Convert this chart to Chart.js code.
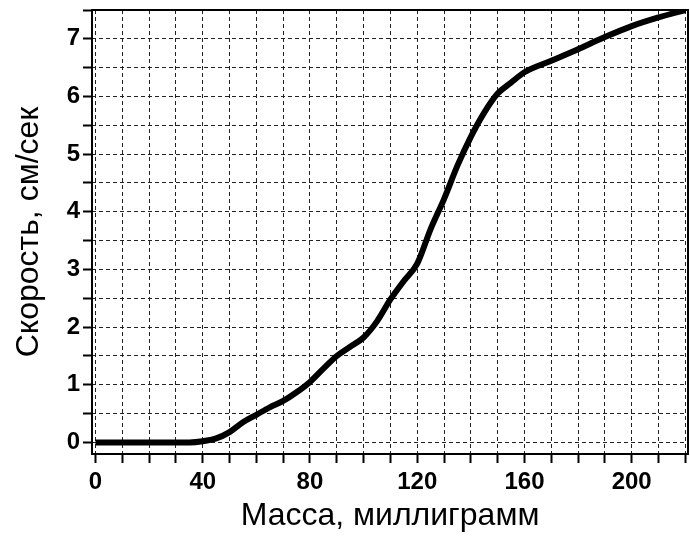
<!DOCTYPE html>
<html>
<head>
<meta charset="utf-8">
<script src="https://cdn.jsdelivr.net/npm/chart.js@4"></script>
<style>
  html, body { margin: 0; padding: 0; background: #fff; }
  #wrap { width: 690px; height: 538px; }
</style>
</head>
<body>
<div id="wrap"><canvas id="chart" width="690" height="538"></canvas></div>
<script>
// mass, milligrams
const massValues = [0, 10, 20, 30, 35, 40, 45, 50, 55, 60, 65, 70, 75, 80, 85, 90, 95, 100, 105, 110, 115, 120, 125, 130, 135, 140, 145, 150, 155, 160, 170, 180, 190, 200, 210, 220];
// speed, cm/s
const speedValues = [0, 0, 0, 0, 0, 0.02, 0.07, 0.18, 0.35, 0.48, 0.61, 0.72, 0.87, 1.05, 1.28, 1.5, 1.66, 1.82, 2.1, 2.48, 2.8, 3.1, 3.7, 4.22, 4.8, 5.3, 5.72, 6.05, 6.24, 6.42, 6.62, 6.82, 7.03, 7.22, 7.37, 7.5];
const xTickValues = [0, 10, 20, 30, 40, 50, 60, 70, 80, 90, 100, 110, 120, 130, 140, 150, 160, 170, 180, 190, 200, 210, 220];
const yTickValues = [0, 0.5, 1, 1.5, 2, 2.5, 3, 3.5, 4, 4.5, 5, 5.5, 6, 6.5, 7, 7.5];

const points = massValues.map((m, i) => ({ x: m, y: speedValues[i] }));

const frame = {
    id: 'frame',
    afterDraw(chart) {
        const { ctx, chartArea: a } = chart;
        ctx.save();
        ctx.strokeStyle = '#000';
        ctx.lineWidth = 2;
        ctx.strokeRect(a.left, a.top, a.right - a.left, a.bottom - a.top);
        ctx.restore();
    }
};

const tickFont = { family: 'Liberation Sans, Arial, sans-serif', size: 24, weight: 'bold' };
const titleFont = { family: 'Liberation Sans, Arial, sans-serif', size: 32, weight: 'normal' };

new Chart(document.getElementById('chart'), {
    type: 'line',
    data: {
        datasets: [{
            data: points,
            borderColor: '#000',
            borderWidth: 6,
            pointRadius: 0,
            fill: false,
            cubicInterpolationMode: 'monotone'
        }]
    },
    options: {
        responsive: false,
        animation: false,
        events: [],
        layout: { padding: { top: 10, right: 2, left: 0, bottom: 0 } },
        plugins: { legend: { display: false }, tooltip: { enabled: false } },
        scales: {
            x: {
                type: 'linear',
                min: -1.3,
                max: 221,
                afterBuildTicks: s => { s.ticks = xTickValues.map(v => ({ value: v })); },
                afterFit: s => { s.height = 84; s.paddingLeft = 0; s.paddingRight = 0; },
                ticks: {
                    color: '#000',
                    font: tickFont,
                    padding: 5,
                    maxRotation: 0,
                    autoSkip: false,
                    callback: v => (v % 40 === 0 ? v : '')
                },
                grid: { color: '#222', lineWidth: 1, tickLength: 9, tickColor: '#000', tickWidth: 2 },
                border: { display: false, dash: [4, 3] },
                title: { display: true, text: 'Масса, миллиграмм', color: '#000', font: titleFont, padding: { top: 0, bottom: 3 } }
            },
            y: {
                type: 'linear',
                min: -0.2,
                max: 7.5,
                afterBuildTicks: s => { s.ticks = yTickValues.map(v => ({ value: v })); },
                afterFit: s => { s.width = 92; s.paddingTop = 0; s.paddingBottom = 0; },
                ticks: {
                    color: '#000',
                    font: tickFont,
                    padding: 3,
                    autoSkip: false,
                    callback: v => (Number.isInteger(v) ? v : '')
                },
                grid: { color: '#222', lineWidth: 1, tickLength: 9, tickColor: '#000', tickWidth: 2 },
                border: { display: false, dash: [4, 3] },
                title: { display: true, text: 'Скорость, см/сек', color: '#000', font: titleFont, padding: { top: 10, bottom: 0 } }
            }
        }
    },
    plugins: [frame]
});
</script>
</body>
</html>
